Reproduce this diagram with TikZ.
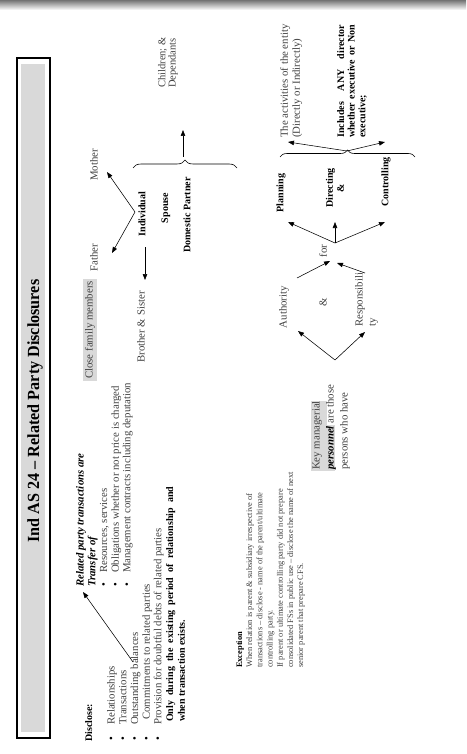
\documentclass[tikz,border=0pt]{standalone}
\usepackage{fontspec}
\setmainfont{Liberation Serif}
\newfontfamily\titlefont[FakeStretch=0.95]{Liberation Serif}
\usetikzlibrary{arrows.meta,decorations.pathreplacing}
\begin{document}
\begin{tikzpicture}[x=1pt,y=-1pt,
  tx/.style={rotate=90, inner sep=0pt, text=black!75, font=\fontsize{10.8}{11.7}\selectfont},
  bx/.style={rotate=90, inner sep=0pt, text=black, font=\fontsize{10}{11}\selectfont\bfseries},
  ex/.style={rotate=90, inner sep=0pt, anchor=base west, text=black!75, font=\fontsize{8.4}{10.2}\selectfont},
  arr/.style={-{Triangle[length=6pt,width=4.5pt]}, line width=0.55pt, black},
  brc/.style={decorate, line width=0.6pt, black},
  hl/.style={fill=black!15, draw=none}]
\useasboundingbox (0,0) rectangle (466,754);
\shade[top color=black!55, bottom color=white] (0,0) rectangle (466,10);

% title box
\fill[black!15] (21,64) rectangle (45,732);
\draw[line width=1.1pt] (17,58) rectangle (50,738);
\node[rotate=90, inner sep=0pt, font=\titlefont\bfseries\fontsize{17}{17}\selectfont] (title) at (35,411) {Ind AS 24 – Related Party Disclosures};

% disclose list
\node[bx, anchor=north west] (disc) at (85,742) {Disclose:};
\node[tx, anchor=north west, align=left] (dlist) at (107,741) {%
\makebox[16pt][l]{\textcolor{black}{\textbullet}}Relationships\\
\makebox[16pt][l]{\textcolor{black}{\textbullet}}Transactions\\
\makebox[16pt][l]{\textcolor{black}{\textbullet}}Outstanding balances\\
\makebox[21pt][l]{\textcolor{black}{\textbullet}}Commitments to related parties\\
\makebox[16pt][l]{\textcolor{black}{\textbullet}}Provision for doubtful debts of related parties\\
\hspace*{19pt}{\fontsize{10}{11.7}\selectfont\bfseries\color{black}\makebox[235pt][s]{Only during the existing period of relationship and}}\\
\hspace*{19pt}{\fontsize{10}{11.7}\selectfont\bfseries\color{black}when transaction exists.}};

% transfer list
\node[tx, anchor=north west, align=left] (tlist) at (76,587) {%
\textcolor{black}{\bfseries\itshape Related party transactions are}\\
\textcolor{black}{\bfseries\itshape Transfer of}\\
\makebox[14pt][l]{\textcolor{black}{\textbullet}}Resources, services\\
\makebox[14pt][l]{\textcolor{black}{\textbullet}}Obligations whether or not price is charged\\
\makebox[14pt][l]{\textcolor{black}{\textbullet}}Management contracts including deputation};
\coordinate (osb) at (133,662);
\coordinate (rpt) at (83,592);
\draw[arr] (osb) -- (rpt);

% family
\node[tx, fill=black!15, inner sep=2pt] (cfm) at (90,330) {Close family members};
\node[tx] (father) at (94,258) {Father};
\node[tx] (mother) at (94,165) {Mother};
\node[bx] (indiv) at (142,214) {Individual};
\node[tx] (bro) at (141,327) {Brother \& Sister};
\node[bx] (spouse) at (166,208) {Spouse};
\node[bx] (dom) at (187,215) {Domestic Partner};
\node[tx, anchor=north west, align=left, font=\fontsize{10.5}{10.2}\selectfont] (child) at (158,88) {Children; \&\\Dependants};
\coordinate (indj) at (135,212);
\coordinate (motherE) at (107,172);
\coordinate (fatherE) at (112,253);
\draw[arr] (indj) -- (motherE);
\draw[arr] (indj) -- (fatherE);
\coordinate (broS) at (145,247);
\coordinate (broE) at (145,280);
\draw[arr] (broS) -- (broE);
\coordinate (fb1) at (133,168);
\coordinate (fb2) at (237,168);
\draw[brc, decoration={brace, amplitude=8pt}] (fb1) -- (fb2);
\coordinate (fbt) at (183,157);
\coordinate (fbe) at (183,130);
\draw[arr] (fbt) -- (fbe);

% exception
\node[ex, text=black, font=\fontsize{8.4}{10.2}\selectfont\bfseries] (exc0) at (242,668) {Exception};
\node[ex] (exc1) at (252.2,668) {When relation is parent \& subsidiary irrespective of};
\node[ex] (exc2) at (262.4,668) {transactions – disclose - name of the parent/ultimate};
\node[ex] (exc3) at (272.6,668) {controlling party.};
\node[ex] (exc4) at (282.8,668) {If parent or ultimate controlling party did not prepare};
\node[ex] (exc5) at (293,668) {consolidated FSs in public use – disclose the name of next};
\node[ex] (exc6) at (303.2,668) {senior parent that prepare CFS.};

% key managerial personnel
\fill[hl] (311,401) rectangle (327,471);
\fill[hl] (311,425) rectangle (335,471);
\node[tx, anchor=north west, align=left, font=\fontsize{10.8}{14}\selectfont] (kmp) at (312,470) {%
Key managerial\\
\textcolor{black}{\bfseries\itshape personnel} are those\\
persons who have};
\coordinate (kj) at (335,360);
\coordinate (authE) at (298,331);
\coordinate (respE) at (365,332);
\draw[arr] (kj) -- (authE);
\draw[arr] (kj) -- (respE);
\node[tx] (auth) at (284,307) {Authority};
\node[tx] (amp) at (323,302) {\&};
\node[tx, anchor=north west, align=left, font=\fontsize{10.8}{13}\selectfont] (resp) at (355,327) {Responsibili\\ty};
\coordinate (authT) at (297,278);
\coordinate (respT) at (365,273);
\coordinate (forL) at (330,261);
\coordinate (forR) at (337,263);
\draw[arr] (authT) -- (forL);
\draw[arr] (respT) -- (forR);
\node[tx] (for) at (323,251) {for};
\coordinate (fj) at (335,243);
\coordinate (planE) at (288,222);
\coordinate (dirE) at (335,222);
\coordinate (ctrlE) at (385,222);
\draw[arr] (fj) -- (planE);
\draw[arr] (fj) -- (dirE);
\draw[arr] (fj) -- (ctrlE);
\node[bx] (plan) at (281,193) {Planning};
\node[bx, align=center] (dir) at (335,188) {Directing\\\&};
\node[bx] (ctrl) at (386,182) {Controlling};
\coordinate (kb1) at (280,157);
\coordinate (kb2) at (415,157);
\draw[brc, decoration={brace, amplitude=7pt}] (kb1) -- (kb2);
\coordinate (kbt) at (347,151);
\coordinate (actE) at (288,142);
\coordinate (incE) at (385,142);
\draw[arr] (kbt) -- (actE);
\draw[arr] (kbt) -- (incE);
\node[tx, anchor=north west, align=left, font=\fontsize{10.8}{12}\selectfont] (act) at (280,138) {The activities of the entity\\(Directly or Indirectly)};
\node[bx, anchor=north west, align=left, font=\fontsize{10}{10.6}\selectfont\bfseries] (inc) at (337,138) {%
\makebox[113pt][s]{Includes ANY director}\\
\makebox[113pt][s]{whether executive or Non}\\
executive;};
\end{tikzpicture}
\end{document}
